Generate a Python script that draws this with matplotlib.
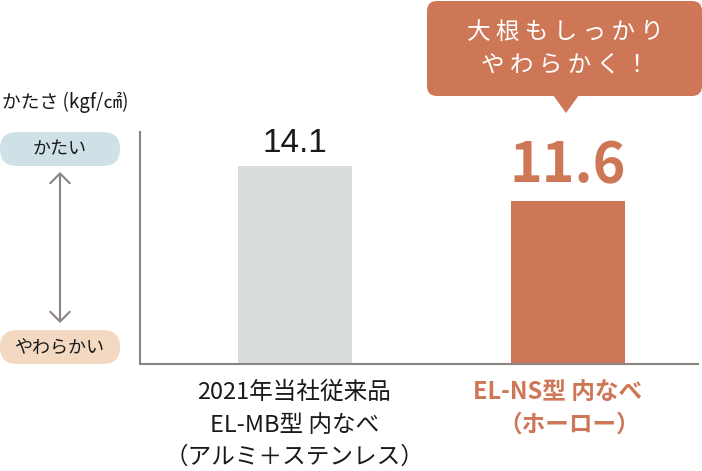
import matplotlib
matplotlib.use('Agg')
import matplotlib.pyplot as plt
from matplotlib.patches import FancyBboxPatch, Polygon, FancyArrowPatch
from matplotlib.transforms import blended_transform_factory

plt.rcParams['font.family'] = ['Noto Sans CJK JP', 'DejaVu Sans']

# data
products = ['2021年当社従来品\nEL-MB型 内なべ\n（アルミ＋ステンレス）', 'EL-NS型 内なべ\n（ホーロー）']
hardness = [14.1, 11.6]
value_labels = ['14.1', '11.6']
y_title = 'かたさ (kgf/㎠)'
hard_label = 'かたい'
soft_label = 'やわらかい'
callout = ['大根もしっかり', 'やわらかく！']

ORANGE = '#ce7756'
GRAY_BAR = '#d9dcdc'
SPINE = '#8b8582'
TEXT = '#1a1a1a'
W, H = 702, 471

fig = plt.figure(figsize=(W / 100, H / 100), dpi=100)

ax = fig.add_axes([140 / W, 1 - 363.5 / H, 558 / W, (363.5 - 132) / H])
x = [0, 1]
ax.bar(x, hardness, width=0.418, color=[GRAY_BAR, ORANGE], zorder=1)
ax.set_xlim(-0.568, 1.476)
ax.set_ylim(0, 16.55)
ax.set_xticks([])
ax.set_yticks([])
for s in ['top', 'right']:
    ax.spines[s].set_visible(False)
for s in ['left', 'bottom']:
    ax.spines[s].set_color(SPINE)
    ax.spines[s].set_linewidth(1.5)
    ax.spines[s].set_zorder(3)

# value labels
ax.annotate(value_labels[0], (x[0], hardness[0]), xytext=(0, 10), textcoords='offset points',
            ha='center', va='baseline', fontsize=24, color=TEXT, family='Liberation Sans')
ax.annotate(value_labels[1], (x[1], hardness[1]), xytext=(0, 13.5), textcoords='offset points',
            ha='center', va='baseline', fontsize=40, color=ORANGE, fontweight='bold')

# overlay in pixel units for the decorations
deco = fig.add_axes([0, 0, 1, 1], zorder=5)
deco.set_xlim(0, W)
deco.set_ylim(H, 0)
deco.axis('off')
deco.patch.set_visible(False)

# category labels, one line at a time
mix = blended_transform_factory(ax.transData, deco.transData)
line_y = [392, 425, 457]
for i, lines in enumerate(products):
    lines = lines.split('\n')
    for j, ln in enumerate(lines):
        if i == 0:
            deco.text(x[i] - 0.003, line_y[j], ln, transform=mix, ha='center', va='center',
                      fontsize=17, color=TEXT)
        else:
            dx = -0.04 if j == 0 else 0.003
            deco.text(x[i] + dx, line_y[j], ln, transform=mix, ha='center', va='center',
                      fontsize=17, color=ORANGE, fontweight='bold')

# left scale legend
deco.text(2, 102, y_title, ha='left', va='center', fontsize=13.5, color=TEXT)
for label, cy, col in [(hard_label, 149, '#cfe1e6'), (soft_label, 347, '#f3d9c2')]:
    deco.add_patch(FancyBboxPatch((0, cy - 17), 120, 34, boxstyle='round,pad=0,rounding_size=17',
                                  facecolor=col, edgecolor='none'))
    deco.text(60, cy + 0.5, label, ha='center', va='center', fontsize=13, color=TEXT)
deco.add_patch(FancyArrowPatch((60, 172), (60, 323), arrowstyle='<->,head_length=3.5,head_width=3.5',
                               color=SPINE, lw=1.5, mutation_scale=2, shrinkA=0, shrinkB=0))

# callout
deco.add_patch(FancyBboxPatch((427, 1), 275, 95, boxstyle='round,pad=0,rounding_size=10',
                              facecolor=ORANGE, edgecolor='none'))
deco.add_patch(Polygon([(553, 95), (579, 95), (566, 113)], closed=True,
                       facecolor=ORANGE, edgecolor='none'))
for ln, cy in zip(callout, [32, 66]):
    deco.text(565, cy, ' '.join(ln), ha='center', va='center', fontsize=17, color='white')

fig.savefig('out.png', dpi=100)
